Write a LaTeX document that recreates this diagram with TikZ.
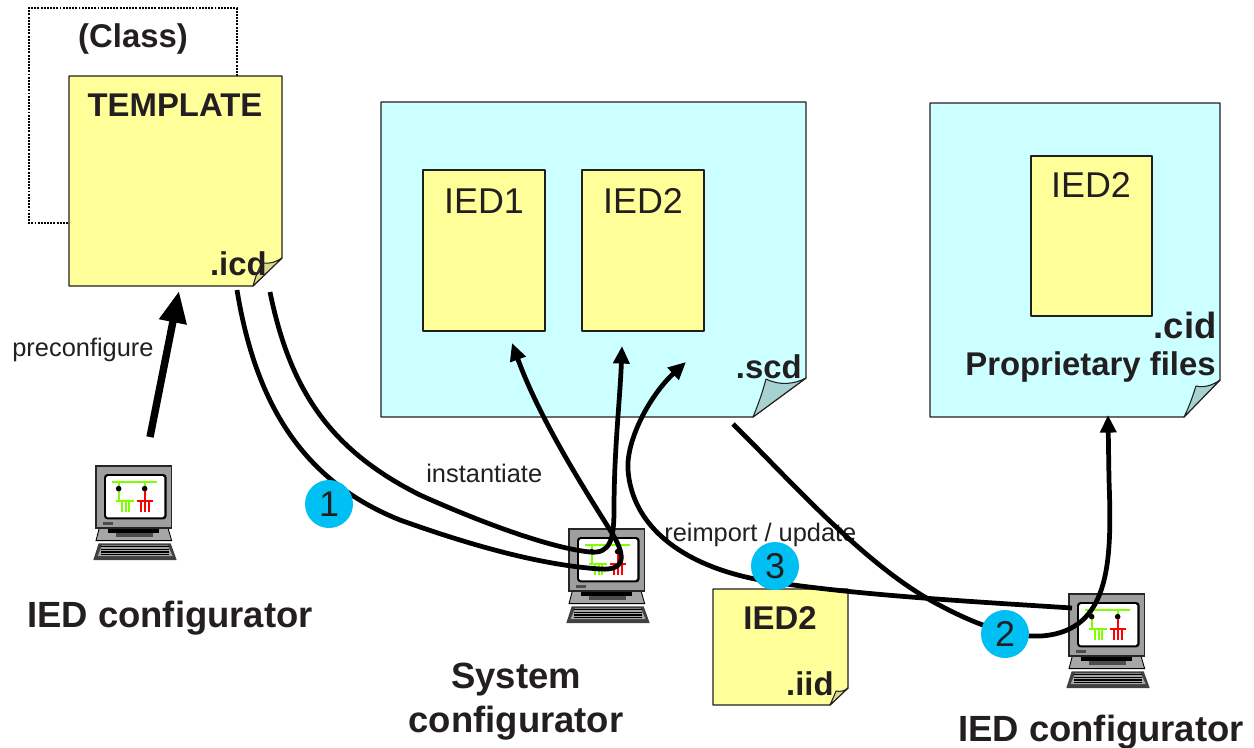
\documentclass[tikz,border=0pt]{standalone}
\usepackage{fontspec}
\setmainfont{Liberation Sans}
\usetikzlibrary{arrows.meta}
\definecolor{ink}{HTML}{231F20}
\definecolor{noteyellow}{HTML}{FFFF99}
\definecolor{foldyellow}{HTML}{D9D98A}
\definecolor{notecyan}{HTML}{CCFFFF}
\definecolor{foldcyan}{HTML}{A6D2D2}
\definecolor{badge}{HTML}{00BFF3}
\definecolor{scrgreen}{HTML}{80FF00}
\newcommand{\px}[1]{\fontsize{\dimexpr#1pt*567/1000\relax}{\dimexpr#1pt*680/1000\relax}\selectfont}
\tikzset{
  x=0.02cm,y=-0.02cm,
  note/.style={draw=ink,line width=0.7pt,line join=round},
  fold/.style={draw=ink,line width=0.6pt,line join=round},
  conn/.style={draw=black,line width=2.7pt,-{Triangle[length=10pt,width=9pt]}},
  lab/.style={text=ink,inner sep=0pt,align=center,font=\px{33}\bfseries},
  caplab/.style={text=ink,inner sep=0pt,align=center,font=\px{36.6}\bfseries},
  big/.style={text=ink,inner sep=0pt,font=\px{36}},
  small/.style={text=ink,inner sep=0pt,font=\px{25.5}},
  numb/.style={circle,fill=badge,minimum size=48*0.02cm,inner sep=0pt,text=ink,font=\px{36}},
  pics/computer/.style={code={
    \begin{scope}[x=0.00667cm,y=-0.00667cm]
    % keyboard
    \fill[black!75] (8,232) -- (224,232) -- (242,282) -- (-8,282) -- cycle;
    \fill[black!35] (18,238) -- (215,238) -- (230,270) -- (5,270) -- cycle;
    \foreach \yy in {242,250,258,266}{\draw[black,line width=0.6pt] (16,\yy) -- (218,\yy);}
    % base
    \fill[black!35,draw=black,line width=0.5pt] (10,186) -- (216,186) -- (227,224) -- (0,224) -- cycle;
    \fill[black] (35,186) rectangle (190,200);
    \fill[black!70] (60,200) rectangle (170,212);
    % monitor
    \fill[black!38,draw=black!85,line width=0.7pt] (0,0) rectangle (227,186);
    \fill[black,rounded corners=2pt] (24,24) rectangle (212,160);
    \fill[white,rounded corners=1pt] (30,30) rectangle (205,154);
    \fill[black!70] (22,167) rectangle (50,176);
    % single-line scheme
    \draw[scrgreen,line width=1.2pt] (48,47) -- (183,47);
    \draw[scrgreen,line width=1.2pt] (68,47) -- (68,104);
    \draw[scrgreen,line width=1.2pt] (146,47) -- (146,60);
    \fill[black] (68,68) circle (1.6pt) (146,68) circle (1.6pt);
    \draw[scrgreen,line width=1.2pt] (60,104) -- (115,104);
    \draw[red,line width=1.2pt] (122,104) -- (170,104);
    \draw[red,line width=1.2pt] (146,76) -- (146,104);
    \foreach \xx in {79,90,100}{\draw[scrgreen,line width=1.2pt] (\xx,104) -- (\xx,137);}
    \foreach \xx in {136,148,160}{\draw[red,line width=1.2pt] (\xx,104) -- (\xx,137);}
    \end{scope}
  }}
}
\begin{document}
\begin{tikzpicture}
\useasboundingbox (0,0) rectangle (1254,747);
\fill[white] (0,0) rectangle (1254,747);
% class outline
\draw[black,line width=1.2pt,dash pattern=on 1.1pt off 0.7pt] (237,76) -- (237,8) -- (29,8) -- (29,223) -- (69,223);
% template
\draw[note,fill=noteyellow] (69,76) -- (282,76) -- (282,258) -- (253,286) -- (69,286) -- cycle;
\draw[fold,fill=foldyellow] (253,286) .. controls (257,272) and (260,265) .. (263,263) .. controls (270,264) and (276,262) .. (282,258) -- cycle;
\node[lab] (cls) at (133,39) {(Class)};
\node[lab] (tpl) at (175,105) {TEMPLATE};
\node[lab,anchor=east] (icd) at (267,264) {.icd};
% scd
\draw[note,fill=notecyan] (381,102) -- (806,102) -- (806,378) -- (753,417) -- (381,417) -- cycle;
\draw[fold,fill=foldcyan] (753,417) .. controls (760,400) and (763,390) .. (766,379) .. controls (780,386) and (795,384) .. (806,378) -- cycle;
\node[lab,anchor=east] (scd) at (802,367) {.scd};
\draw[note,fill=noteyellow] (423,170) rectangle (545,331);
\node[big] (i1) at (484,201) {IED1};
\draw[note,fill=noteyellow] (582,170) rectangle (704,331);
\node[big] (i2) at (643,201) {IED2};
% cid
\draw[note,fill=notecyan] (930,103) -- (1220,103) -- (1220,380) -- (1184,417) -- (930,417) -- cycle;
\draw[fold,fill=foldcyan] (1184,417) .. controls (1190,405) and (1193,395) .. (1196,386) .. controls (1205,388) and (1213,385) .. (1220,380) -- cycle;
\draw[note,fill=noteyellow] (1031,156) rectangle (1152,316);
\node[big] (i3) at (1091,185) {IED2};
\node[caplab,anchor=east] (cid) at (1217,325) {.cid};
\node[lab,anchor=east] (prop) at (1216,367) {Proprietary files};
% iid
\draw[note,fill=noteyellow] (713,589) -- (848,589) -- (848,688) -- (830,705) -- (713,705) -- cycle;
\draw[fold,fill=foldyellow] (830,705) .. controls (833,698) and (835,694) .. (836,691) .. controls (840,692) and (845,691) .. (848,688) -- cycle;
\node[font=\px{33}\bfseries,text=ink,inner sep=0pt] (i4) at (780,618) {IED2};
\node[font=\px{33}\bfseries,text=ink,inner sep=0pt,anchor=east] (iid) at (834,684) {.iid};
% computers
\pic at (96,466) {computer};
\pic at (569,529) {computer};
\pic at (1069,594) {computer};
% labels
\node[small,anchor=west] (pre) at (12,350) {preconfigure};
\node[small,anchor=west] (inst) at (426,473) {instantiate};
\node[small,anchor=west] (reimp) at (664,535) {reimport / update};
\node[caplab] (c1) at (170,618) {IED configurator};
\node[caplab] (c2a) at (516,680) {System};
\node[caplab] (c2b) at (516,723) {configurator};
\node[caplab] (c3) at (1101,732) {IED configurator};
% connector anchors
\coordinate (pre0) at (150,437);
\coordinate (pre1) at (179,291);
\coordinate (a0) at (237,290);
\coordinate (a1) at (512,343);
\coordinate (b0) at (270,292);
\coordinate (b1) at (622,346);
\coordinate (r0) at (1072,608);
\coordinate (r1) at (686,362);
\coordinate (s0) at (733,424);
\coordinate (s1) at (1108,415);
% connectors
\draw[draw=black,line width=4.2pt,-{Triangle[length=18pt,width=15pt]}] (pre0) -- (pre1);
\draw[conn] (a0) .. controls (255,400) and (300,480) .. (400,520) .. controls (470,545) and (540,565) .. (600,569) .. controls (628,571) and (625,553) .. (610,530) .. controls (585,490) and (540,420) .. (a1);
\draw[conn] (b0) .. controls (290,390) and (330,450) .. (420,495) .. controls (480,522) and (550,548) .. (590,552) .. controls (610,554) and (614,540) .. (614,510) .. controls (614,450) and (620,400) .. (b1);
\draw[conn] (r0) .. controls (980,602) and (850,595) .. (760,580) .. controls (680,565) and (632,525) .. (628,470) .. controls (626,440) and (650,395) .. (r1);
\draw[conn] (s0) .. controls (790,480) and (860,560) .. (930,600) .. controls (980,628) and (1020,640) .. (1050,635) .. controls (1110,625) and (1112,560) .. (1109,480) -- (s1);
% badges
\node[numb] (n1) at (329,504) {1};
\node[numb] (n2) at (1005,634) {2};
\node[numb] (n3) at (775,566) {3};
\end{tikzpicture}
\end{document}
